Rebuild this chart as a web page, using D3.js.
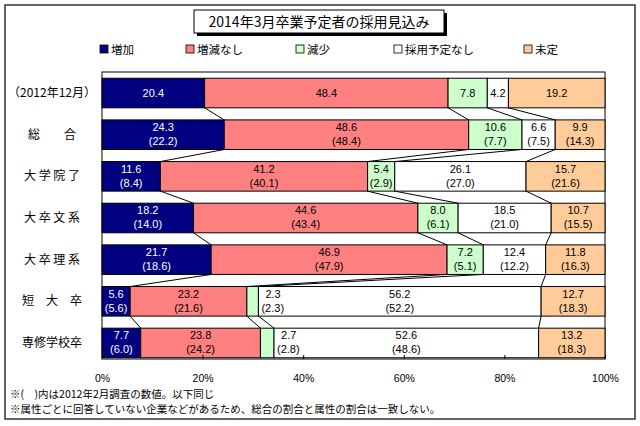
<!DOCTYPE html>
<html><head><meta charset="utf-8">
<script src="https://cdn.jsdelivr.net/npm/d3@7"></script>
<style>
body{margin:0;background:#fff;font-family:"Noto Sans CJK JP",sans-serif;}
</style></head><body>
<svg id="c" width="640" height="426"></svg>
<script>
var rows = ["（2012年12月）", "総　　合", "大 学 院 了", "大 卒 文 系", "大 卒 理 系", "短　大　卒", "専修学校卒"];
var series = ["増加", "増減なし", "減少", "採用予定なし", "未定"];
var colors = ["#000080", "#ff8080", "#ccffcc", "#ffffff", "#ffcc99"];
var textColors = ["#ffffff", "#000000", "#000000", "#000000", "#000000"];
var current = [
  [20.4, 48.4, 7.8, 4.2, 19.2],
  [24.3, 48.6, 10.6, 6.6, 9.9],
  [11.6, 41.2, 5.4, 26.1, 15.7],
  [18.2, 44.6, 8.0, 18.5, 10.7],
  [21.7, 46.9, 7.2, 12.4, 11.8],
  [5.6, 23.2, 2.3, 56.2, 12.7],
  [7.7, 23.8, 2.7, 52.6, 13.2]
];
var previous = [
  null,
  [22.2, 48.4, 7.7, 7.5, 14.3],
  [8.4, 40.1, 2.9, 27.0, 21.6],
  [14.0, 43.4, 6.1, 21.0, 15.5],
  [18.6, 47.9, 5.1, 12.2, 16.3],
  [5.6, 21.6, 2.3, 52.2, 18.3],
  [6.0, 24.2, 2.8, 48.6, 18.3]
];
var ticks = [0, 20, 40, 60, 80, 100];

var svg = d3.select("#c");
svg.append("rect").attr("x", 5).attr("y", 5).attr("width", 630).attr("height", 414)
  .attr("fill", "#fff").attr("stroke", "#333").attr("stroke-width", 1.5);

// title box with shadow
svg.append("rect").attr("x", 197).attr("y", 13).attr("width", 250).attr("height", 23).attr("fill", "#000");
svg.append("rect").attr("x", 194).attr("y", 10).attr("width", 250).attr("height", 23)
  .attr("fill", "#fff").attr("stroke", "#000");
svg.append("text").attr("x", 319).attr("y", 27).attr("text-anchor", "middle")
  .attr("font-size", 14).text("2014年3月卒業予定者の採用見込み");

// legend
var legX = [100, 186, 296, 394, 524];
series.forEach(function (s, i) {
  svg.append("rect").attr("x", legX[i]).attr("y", 45).attr("width", 8).attr("height", 8)
    .attr("fill", colors[i]).attr("stroke", "#000").attr("stroke-width", 0.8);
  svg.append("text").attr("x", legX[i] + 11).attr("y", 53.5).attr("font-size", 11.5).text(s);
});

var x = d3.scaleLinear().domain([0, 100]).range([102, 605]);
var y = d3.scaleBand().domain(rows).range([72, 364]).paddingInner(0.29).paddingOuter(0.15);

var plot = svg.append("g");
plot.append("rect").attr("x", x(0)).attr("y", 72).attr("width", x(100) - x(0)).attr("height", 287)
  .attr("fill", "#fff").attr("stroke", "#000");

var stacks = current.map(function (r) {
  var acc = 0;
  return r.map(function (v) { var s = acc; acc += v; return [s, acc]; });
});

// connector lines
for (var r = 0; r < rows.length - 1; r++) {
  for (var k = 0; k < 4; k++) {
    plot.append("line")
      .attr("x1", x(stacks[r][k][1])).attr("y1", y(rows[r]) + y.bandwidth())
      .attr("x2", x(stacks[r + 1][k][1])).attr("y2", y(rows[r + 1]))
      .attr("stroke", "#000").attr("stroke-width", 1);
  }
}

var labels = svg.append("g");
rows.forEach(function (name, r) {
  var y0 = y(name), h = y.bandwidth();
  current[r].forEach(function (v, k) {
    var s = stacks[r][k];
    plot.append("rect").attr("x", x(s[0])).attr("y", y0).attr("width", x(s[1]) - x(s[0])).attr("height", h)
      .attr("fill", colors[k]).attr("stroke", "#000").attr("stroke-width", 1);
    var small = v < 3;
    var cx = small ? x(s[1]) + 3 : (x(s[0]) + x(s[1])) / 2;
    var anchor = small ? "start" : "middle";
    var g = labels.append("g").attr("font-size", 11).attr("font-family", "Liberation Sans Narrow, Arial, sans-serif")
      .attr("fill", small ? "#000" : textColors[k]).attr("text-anchor", anchor);
    if (previous[r]) {
      g.append("text").attr("x", cx + (small ? 4 : 0)).attr("y", y0 + 11).text(v.toFixed(1));
      g.append("text").attr("x", cx).attr("y", y0 + 25).text("(" + previous[r][k].toFixed(1) + ")");
    } else {
      g.append("text").attr("x", cx).attr("y", y0 + h / 2 + 4).text(v.toFixed(1));
    }
  });
  svg.append("text").attr("x", 52).attr("y", y0 + h / 2 + 4).attr("text-anchor", "middle")
    .attr("font-size", 12).text(name);
});

// x axis
var axis = d3.axisBottom(x).tickValues(ticks).tickSize(-4).tickFormat(function (d) { return d + "%"; });
var ax = svg.append("g").attr("transform", "translate(0,359)").call(axis);
ax.select(".domain").remove();
ax.selectAll("text").attr("dy", 20).attr("font-size", 10.5).attr("font-family", "Liberation Sans Narrow, Arial, sans-serif");

svg.append("text").attr("x", 10).attr("y", 398).attr("font-size", 10.5).text("※(　)内は2012年2月調査の数値。以下同じ");
svg.append("text").attr("x", 10).attr("y", 413).attr("font-size", 10.5)
  .text("※属性ごとに回答していない企業などがあるため、総合の割合と属性の割合は一致しない。");
</script>
</body></html>
